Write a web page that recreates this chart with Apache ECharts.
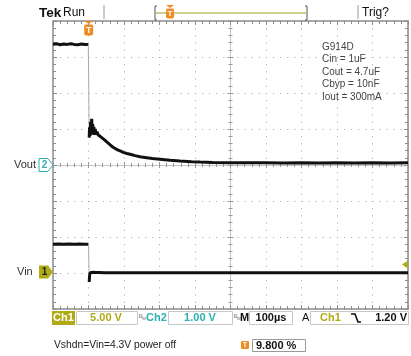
<!DOCTYPE html>
<html>
<head>
<meta charset="utf-8">
<script src="https://cdn.jsdelivr.net/npm/echarts@6/dist/echarts.min.js"></script>
<style>
html,body{margin:0;padding:0;background:#fff;}
#chart{width:411px;height:356px;}
</style>
</head>
<body>
<div id="chart"></div>
<script>
// ---- scope settings (chart content) ----
const timePerDiv = 100;      // µs/div
const triggerDiv = -4;       // trigger position in divisions from screen centre
const ch1VoltsPerDiv = 5;    // Vin
const ch1OffsetDiv = -3;     // Vin ground marker
const ch2VoltsPerDiv = 1;    // Vout
const ch2OffsetDiv = 0;      // Vout ground marker

// ---- Vout (Ch2) trace, time in µs, value in V ----
const voutBeforeT = [-100, -90, -80, -70, -60, -50, -40, -30, -20, -10, -0.5];
const voutBeforeV = [3.35, 3.37, 3.34, 3.36, 3.35, 3.37, 3.35, 3.34, 3.36, 3.35, 3.35];
const voutEdgeT = [-0.5, 1, 2];
const voutEdgeV = [3.35, 3.3, 0.76];
const voutAfterT = [2, 3, 4.5, 6, 7.5, 9, 10.5, 12, 13.5, 15, 17, 19, 21, 24, 27, 32, 40, 46, 54, 61, 68, 75, 82, 89, 98, 108, 120, 131, 145, 159, 180, 201, 230, 258, 290, 314, 350, 399, 450, 500, 550, 600, 650, 700, 750, 800, 850, 900];
const voutAfterV = [0.76, 1.05, 0.8, 1.2, 0.88, 1.28, 0.86, 1.14, 0.84, 1.06, 0.84, 1.0, 0.84, 0.92, 0.84, 0.8, 0.74, 0.69, 0.62, 0.56, 0.5, 0.46, 0.42, 0.39, 0.35, 0.32, 0.29, 0.26, 0.23, 0.21, 0.18, 0.16, 0.13, 0.11, 0.09, 0.08, 0.07, 0.065, 0.06, 0.06, 0.055, 0.06, 0.055, 0.06, 0.055, 0.06, 0.055, 0.06];

// ---- Vin (Ch1) trace ----
const vinBeforeT = [-100, -85, -70, -55, -40, -25, -10, 0];
const vinBeforeV = [4.0, 4.03, 3.98, 4.02, 4.0, 4.03, 3.99, 4.0];
const vinEdgeT = [0, 1, 2];
const vinEdgeV = [4.0, 1.5, -1.25];
const vinAfterT = [2, 3, 4.5, 6, 9, 14, 20, 30, 45, 70, 100, 150, 200, 300, 400, 500, 600, 700, 800, 900];
const vinAfterV = [-1.25, -0.4, 0.05, 0.15, 0.12, 0.1, 0.08, 0.07, 0.05, 0.05, 0.04, 0.05, 0.04, 0.05, 0.04, 0.05, 0.04, 0.05, 0.04, 0.05];

// ---- on-screen text ----
const noteLines = ['G914D', 'Cin = 1uF', 'Cout = 4.7uF', 'Cbyp = 10nF', 'Iout = 300mA'];
const caption = 'Vshdn=Vin=4.3V power off';
const ch1Scale = '5.00 V', ch2Scale = '1.00 V', timeScale = '100µs', trigLevel = '1.20 V', trigPos = '9.800 %';

function toXY(ts, vs, vpd, off) {
  return ts.map((t, i) => [t / timePerDiv + triggerDiv, vs[i] / vpd + off]);
}

const FONT = 'Liberation Sans, Arial, sans-serif';
const OLIVE = '#b0aa16';
const TEAL = '#2fb0b0';
const ORANGE = '#f08a24';
const GRIDC = '#8c8c8c';

function borderAxis(pos, isX) {
  return {
    type: 'value', min: isX ? -5 : -4, max: isX ? 5 : 4, interval: 1, position: pos,
    axisLine: { show: true, onZero: false, lineStyle: { color: GRIDC, width: 1.5 } },
    axisTick: { show: true, inside: true, length: 4, lineStyle: { color: GRIDC } },
    minorTick: { show: true, splitNumber: 5, length: 3, lineStyle: { color: GRIDC } },
    axisLabel: { show: false },
    splitLine: { show: false }
  };
}
function centerAxis(pos, isX, inside) {
  return {
    type: 'value', min: isX ? -5 : -4, max: isX ? 5 : 4, interval: 1, position: pos,
    axisLine: { show: true, onZero: true, onZeroAxisIndex: 0, lineStyle: { color: '#c4c4c4', width: 1 } },
    axisTick: { show: true, inside: inside, length: 3, lineStyle: { color: '#999' } },
    minorTick: { show: true, splitNumber: 5, length: 2, lineStyle: { color: '#999' } },
    axisLabel: { show: false },
    splitLine: { show: false }
  };
}

const xAxes = [
  Object.assign(borderAxis('bottom', true), {
    splitLine: { show: true, lineStyle: { color: '#a0a0a0', width: 1, type: [1, 6.2] } }
  }),
  borderAxis('top', true),
  centerAxis('bottom', true, true),
  centerAxis('bottom', true, false)
];
const yAxes = [
  Object.assign(borderAxis('left', false), {
    splitLine: { show: true, lineStyle: { color: '#a0a0a0', width: 1, type: [1, 6.1] } }
  }),
  borderAxis('right', false),
  centerAxis('left', false, true),
  centerAxis('left', false, false)
];

function line(data, color, width) {
  return { type: 'line', data: data, xAxisIndex: 0, yAxisIndex: 0, symbol: 'none',
    lineStyle: { color: color, width: width }, z: 5, silent: true };
}

const graphics = [];
function txt(x, y, s, size, color, weight, align) {
  graphics.push({ type: 'text', x: x, y: y, z: 20, style: { text: s, fill: color, font: (weight || 'normal') + ' ' + size + 'px ' + FONT, align: align || 'left', verticalAlign: 'middle' } });
}
function rect(x, y, w, h, fill, stroke, r) {
  graphics.push({ type: 'rect', z: 19, shape: { x: x, y: y, width: w, height: h, r: r || 0 }, style: { fill: fill || 'none', stroke: stroke || null, lineWidth: 1 } });
}
function poly(pts, fill, stroke, lw, closed) {
  graphics.push({ type: closed === false ? 'polyline' : 'polygon', z: 19, shape: { points: pts }, style: { fill: closed === false ? null : fill, stroke: stroke || null, lineWidth: lw || 1 } });
}
function tMarker(cx, top, w, h) {
  poly([[cx - w / 2, top], [cx + w / 2, top], [cx, top + 3]], ORANGE);
  rect(cx - w / 2, top + 3.5, w, h, ORANGE, null, 2);
  txt(cx, top + 3.5 + h / 2 + 0.5, 'T', h - 2, '#fff', 'bold', 'center');
}

// top bar
txt(39, 13, 'Tek', 13.5, '#111', 'bold');
txt(63, 13, 'Run', 12, '#111');
poly([[104, 5], [104, 19]], null, '#999', 1, false);
poly([[157, 6], [155, 6], [155, 20], [157, 20]], null, '#555', 1, false);
poly([[156, 13], [306, 13]], null, '#cfcf8c', 2, false);
poly([[305, 6], [307, 6], [307, 20], [305, 20]], null, '#555', 1, false);
tMarker(170, 5, 8, 10);
poly([[358, 5], [358, 19]], null, '#999', 1, false);
txt(362, 13, 'Trig?', 12, '#111');

// trigger position marker on graticule
tMarker(88.7, 21, 9, 11);

// notes
noteLines.forEach((s, i) => txt(322, 47 + i * 12.5, s, 10, '#444'));

// channel ground markers
txt(14, 165, 'Vout', 11, '#333');
poly([[39, 158.5], [48, 158.5], [53, 165], [48, 171.5], [39, 171.5]], '#fff', TEAL, 1);
txt(44.5, 165.5, '2', 10, TEAL, 'bold', 'center');
txt(17, 272, 'Vin', 11, '#333');
poly([[39, 265.5], [48, 265.5], [53, 272], [48, 278.5], [39, 278.5]], OLIVE);
txt(44.5, 272.5, '1', 10, '#222', 'bold', 'center');
// trigger level arrow (right edge)
poly([[402, 264.5], [408, 260.5], [408, 268.5]], OLIVE);

// status bar
const SY = 318;
rect(52, 311, 23, 14, OLIVE);
txt(63.5, SY, 'Ch1', 11, '#fff', 'bold', 'center');
rect(76.5, 311.5, 61, 13, null, '#c8c8c8');
txt(106, SY, ch1Scale, 11, OLIVE, 'bold', 'center');
txt(138.5, SY - 2, 'B', 6, '#999', 'bold');
txt(142, SY + 1, 'w', 5, '#999', 'bold');
txt(146, SY, 'Ch2', 11, TEAL, 'bold');
rect(168.5, 311.5, 64, 13, null, '#c8c8c8');
txt(200, SY, ch2Scale, 11, TEAL, 'bold', 'center');
txt(233.5, SY - 2, 'B', 6, '#999', 'bold');
txt(237, SY + 1, 'w', 5, '#999', 'bold');
txt(240, SY, 'M', 11, '#111', 'bold');
rect(249.5, 311.5, 43, 13, null, '#c8c8c8');
txt(271, SY, timeScale, 11, '#111', 'bold', 'center');
txt(302, SY, 'A', 11, '#111', 'normal');
rect(310.5, 311.5, 98, 13, null, '#c8c8c8');
txt(320, SY, 'Ch1', 11, OLIVE, 'bold');
poly([[351, 314], [355, 314], [358, 322], [361, 322]], null, '#111', 1.6, false);
txt(407, SY, trigLevel, 11, '#111', 'bold', 'right');

// bottom caption
txt(54, 345, caption, 10.3, '#222');
rect(241, 341, 8, 8, ORANGE, null, 1);
txt(245, 345.5, 'T', 7, '#fff', 'bold', 'center');
rect(252.5, 339.5, 53, 12, null, '#999');
txt(256, 345.5, trigPos, 11, '#111', 'bold');

const chart = echarts.init(document.getElementById('chart'), null, { renderer: 'canvas' });
chart.setOption({
  animation: false,
  backgroundColor: '#fff',
  grid: { left: 53, top: 21, width: 355, height: 288, show: false },
  xAxis: xAxes,
  yAxis: yAxes,
  series: [
    line(toXY(voutBeforeT, voutBeforeV, ch2VoltsPerDiv, ch2OffsetDiv), '#111', 3),
    line(toXY(voutEdgeT, voutEdgeV, ch2VoltsPerDiv, ch2OffsetDiv), '#aaa', 1),
    line(toXY(voutAfterT, voutAfterV, ch2VoltsPerDiv, ch2OffsetDiv), '#111', 3),
    line(toXY(vinBeforeT, vinBeforeV, ch1VoltsPerDiv, ch1OffsetDiv), '#111', 3),
    line(toXY(vinEdgeT, vinEdgeV, ch1VoltsPerDiv, ch1OffsetDiv), '#aaa', 1),
    line(toXY(vinAfterT, vinAfterV, ch1VoltsPerDiv, ch1OffsetDiv), '#111', 3)
  ],
  graphic: graphics
});
</script>
</body>
</html>
